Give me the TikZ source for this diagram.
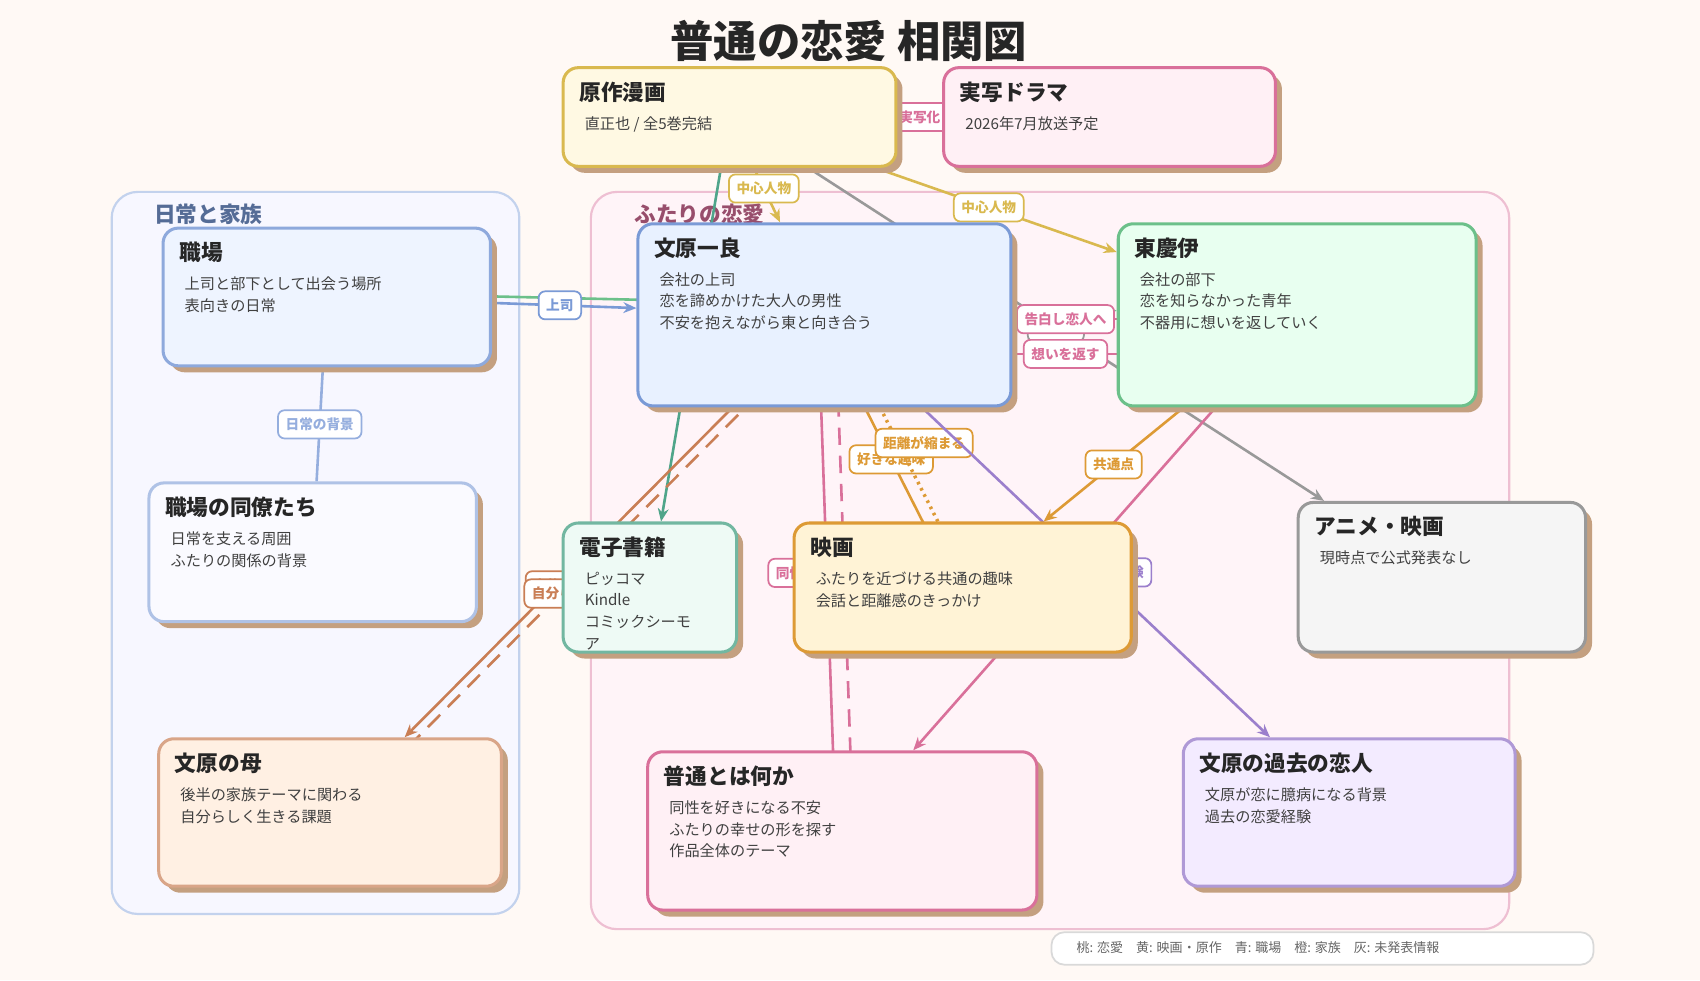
\documentclass[tikz,border=0pt]{standalone}
\usepackage{fontspec}
\setmainfont{Noto Sans CJK JP}
\usetikzlibrary{shadows,calc,arrows.meta}
\pgfdeclarelayer{bg}\pgfdeclarelayer{mid}
\pgfsetlayers{bg,mid,main}
\definecolor{pagebg}{HTML}{FFF9F5}
\definecolor{shad}{HTML}{C4A080}
\definecolor{cpink}{HTML}{D9709A}
\definecolor{cyel}{HTML}{D9B94F}
\definecolor{corg}{HTML}{DD9A35}
\definecolor{cblue}{HTML}{7A9AD6}
\definecolor{cgreen}{HTML}{6CC08A}
\definecolor{cteal}{HTML}{4FA58A}
\definecolor{cbrown}{HTML}{C97E55}
\definecolor{cgray}{HTML}{999999}
\definecolor{cpur}{HTML}{9B7FCC}
\definecolor{fblue}{HTML}{E8F1FF}
\definecolor{fblue2}{HTML}{EEF4FF}
\definecolor{fyel}{HTML}{FFF9E3}
\definecolor{fpink}{HTML}{FFF0F5}
\definecolor{fgreen}{HTML}{E8FFF0}
\definecolor{fteal}{HTML}{EEFAF5}
\definecolor{forg}{HTML}{FFF3D6}
\definecolor{fmom}{HTML}{FFF0E3}
\definecolor{fpur}{HTML}{F3EBFF}
\tikzset{x=0.5pt,y=-0.5pt,
 boxst/.style={draw,line width=1.4pt,rounded corners=7pt,anchor=north west,inner sep=0pt,
   drop shadow={shadow xshift=3pt,shadow yshift=-3pt,fill=shad,opacity=1}},
 ttl/.style={anchor=north west,font=\bfseries\fontsize{10}{12}\selectfont,text=black!85,inner sep=0pt},
 bdy/.style={anchor=north west,font=\fontsize{7}{10}\selectfont,text=black!75,align=left,inner sep=0pt},
 lab/.style={draw=#1,text=#1,fill=white,solid,rounded corners=3pt,line width=0.8pt,font=\bfseries\fontsize{6.3}{7}\selectfont,inner sep=3.5pt},
 ed/.style={line width=1.2pt,draw=#1},
 arr/.style={-{Stealth[length=6pt,width=5pt]}}
}
\newcommand\cbox[9]{%
 \node[boxst,fill=#6,draw=#7,minimum width={(#4-#2)*0.5pt},minimum height={(#5-#3)*0.5pt}] (#1) at (#2,#3) {};
 \node[ttl] (#1t) at (#2+16,#3+14) {#8};
 \node[bdy] (#1b) at (#2+21,#3+46) {#9};}
\begin{document}
\begin{tikzpicture}
\useasboundingbox (0,0) rectangle (1568,904);
\node[font=\bfseries\fontsize{20}{24}\selectfont,text=black!85] (title) at (783,38) {普通の恋愛 相関図};
\begin{pgfonlayer}{bg}
\fill[pagebg] (0,0) rectangle (1568,904);
\draw[fill=blue!3,draw=cblue!45,line width=1pt,rounded corners=12pt] (103,177) rectangle (479,843);
\node[anchor=west,text=cblue!70!black,font=\bfseries\fontsize{10}{12}\selectfont] (g1) at (135,198) {日常と家族};
\draw[fill=fpink!70,draw=cpink!45,line width=1pt,rounded corners=12pt] (545,177) rectangle (1392,857);
\node[anchor=west,text=cpink!70!black,font=\bfseries\fontsize{10}{12}\selectfont] (g2) at (578,198) {ふたりの恋愛};
\end{pgfonlayer}

\cbox{gen}{518}{61}{825}{152}{fyel}{cyel}{原作漫画}{直正也 / 全5巻完結}
\cbox{drama}{869}{61}{1175}{152}{fpink}{cpink}{実写ドラマ}{2026年7月放送予定}
\cbox{work}{149}{209}{451}{336}{fblue2}{cblue!85}{職場}{上司と部下として出会う場所\\表向きの日常}
\cbox{wen}{587}{205}{931}{373}{fblue}{cblue}{文原一良}{会社の上司\\恋を諦めかけた大人の男性\\不安を抱えながら東と向き合う}
\cbox{hig}{1030}{205}{1360}{373}{fgreen}{cgreen}{東慶伊}{会社の部下\\恋を知らなかった青年\\不器用に想いを返していく}
\cbox{col}{136}{444}{438}{572}{blue!2}{cblue!60}{職場の同僚たち}{日常を支える周囲\\ふたりの関係の背景}
\cbox{ebook}{518}{481}{678}{600}{fteal}{cteal!80}{電子書籍}{ピッコマ\\Kindle\\コミックシーモ\\ア}
\cbox{movie}{731}{481}{1042}{600}{forg}{corg}{映画}{ふたりを近づける共通の趣味\\会話と距離感のきっかけ}
\cbox{anime}{1196}{462}{1461}{600}{black!4}{cgray}{アニメ・映画}{現時点で公式発表なし}
\cbox{mom}{145}{680}{461}{816}{fmom}{cbrown!70}{文原の母}{後半の家族テーマに関わる\\自分らしく生きる課題}
\cbox{fut}{596}{692}{955}{838}{fpink}{cpink}{普通とは何か}{同性を好きになる不安\\ふたりの幸せの形を探す\\作品全体のテーマ}
\cbox{ex}{1090}{680}{1396}{816}{fpur}{cpur!80}{文原の過去の恋人}{文原が恋に臆病になる背景\\過去の恋愛経験}

\node[draw=black!15,fill=white,rounded corners=6pt,line width=0.8pt,minimum width=250pt,minimum height=15pt,anchor=north west] (legend) at (969,859) {};
\node[anchor=west,font=\fontsize{6}{7}\selectfont,text=black!60] (legendt) at (986,874) {桃: 恋愛\quad 黄: 映画・原作\quad 青: 職場\quad 橙: 家族\quad 灰: 未発表情報};

\begin{pgfonlayer}{mid}
\draw[ed=cpink] (gen) -- node[lab=cpink]{実写化} (drama);
\draw[ed=cteal,arr] (gen) -- (ebook);
\draw[ed=cyel,arr] (gen) -- node[lab=cyel,pos=0.38]{中心人物} (wen);
\draw[ed=cgray,arr] (gen) -- node[lab=cgray,pos=0.48]{未発表} (anime);
\draw[ed=cyel,arr] (gen) -- node[lab=cyel,pos=0.47]{中心人物} (hig);
\draw[ed=cgreen,arr] ([yshift=2pt]work.center) -- (hig);
\draw[ed=cblue,arr] (work) -- node[lab=cblue,pos=0.47]{上司} (wen);
\draw[ed=cpink,dashed,arr] ([yshift=-2pt]wen.center) -- node[lab=cpink,pos=0.51]{告白し恋人へ} ([yshift=-2pt]hig.center);
\draw[ed=cpink,arr] ([yshift=-18pt]hig.center) -- node[lab=cpink,pos=0.49]{想いを返す} ([yshift=-18pt]wen.center);
\draw[ed=cblue!80] (work) -- node[lab=cblue!80]{日常の背景} (col);
\draw[ed=cbrown,arr] (wen) -- node[lab=cbrown,pos=0.5,xshift=-10pt,yshift=-6pt]{家族} (mom);
\draw[ed=cbrown,dashed,dash pattern=on 8pt off 5pt,arr] ([xshift=6pt]wen.center) -- node[lab=cbrown,pos=0.56,xshift=12pt]{自分らしい生き方} ([xshift=6pt]mom.center);
\draw[ed=cpink,arr] ([xshift=-3pt]wen.center) -- ([xshift=-3pt]fut.center);
\draw[ed=cpink,dashed,dash pattern=on 8pt off 5pt,arr] ([xshift=5pt]wen.center) -- node[lab=cpink,pos=0.5]{同性を好きになる不安} ([xshift=5pt]fut.center);
\draw[ed=corg,arr] ([xshift=-3pt]wen.center) -- node[lab=corg,pos=0.53]{好きな趣味} ([xshift=-3pt]movie.center);
\draw[ed=corg,dotted,line width=1.6pt,arr] ([xshift=4pt]wen.center) -- node[lab=corg,pos=0.47,xshift=12pt]{距離が縮まる} ([xshift=4pt]movie.center);
\draw[ed=cpur,arr] (wen) -- node[lab=cpur,pos=0.5]{過去の恋愛経験} (ex);
\draw[ed=corg,arr] (hig) -- node[lab=corg,pos=0.5]{共通点} (movie);
\draw[ed=cpink,arr] (hig) -- (fut);
\end{pgfonlayer}
\end{tikzpicture}
\end{document}
